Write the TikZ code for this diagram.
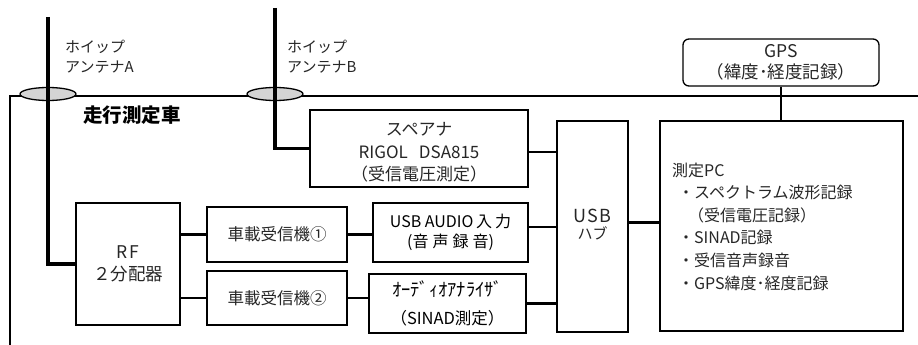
\documentclass[tikz,border=0pt]{standalone}
\usepackage{fontspec}
\usetikzlibrary{shapes.geometric}
\setmainfont{Noto Sans CJK JP}
\begin{document}
\begin{tikzpicture}[x=1pt,y=-1pt,
  box/.style={draw, line width=1.3pt, inner sep=0pt, align=center, text=black!85,
    font=\fontsize{15.5}{22}\selectfont},
  txt/.style={inner sep=0pt, align=center, text=black!85, font=\fontsize{15.5}{22.5}\selectfont},
  conn/.style={line width=2.3pt},
  ant/.style={line width=3.2pt},
  car/.style={line width=1.3pt},
  pad/.style={draw=black, line width=1.3pt, fill=black!17}]
\useasboundingbox (0,0) rectangle (918,345);
% vehicle outline
\coordinate (carTL) at (10,96);
\coordinate (carTR) at (918,96);
\coordinate (carBL) at (10,345);
\draw[car] (carBL) -- (carTL) -- (carTR);
% boxes
\node[box, minimum width=218pt, minimum height=77pt] (spec) at (419,148.5) {};
\node[txt, font=\fontsize{17}{22.5}\selectfont] (spect) at (419,152.5) {スペアナ\\RIGOL\hspace{11pt}DSA815\\（受信電圧測定）};
\node[box, minimum width=71pt, minimum height=211pt] (hub) at (592.5,226.5) {};
\node[txt, font=\fontsize{15}{17}\selectfont] (hubt) at (592.5,224.5) {{\fontsize{18}{18}\selectfont U\kern1ptS\kern1ptB}\\ハブ};
\node[box, minimum width=243pt, minimum height=210pt] (pc) at (781.5,226) {};
\node[txt, anchor=west, align=left, font=\fontsize{16}{22.6}\selectfont] (pct) at (672,226.5)
  {測定PC\\\hspace*{6pt}・スペクトラム波形記録\\\hspace*{16pt}（受信電圧記録）\\\hspace*{6pt}・SINAD記録\\\hspace*{6pt}・受信音声録音\\\hspace*{6pt}・GPS緯度･経度記録};
\node[box, rounded corners=6pt, minimum width=196pt, minimum height=47pt, font=\fontsize{17.5}{21}\selectfont] (gps) at (781,62.5) {GPS\\（緯度･経度記録）};
\node[box, minimum width=104pt, minimum height=122pt, font=\fontsize{17.5}{22}\selectfont] (rf) at (128,264) {R\kern2ptF\\２分配器};
\node[box, minimum width=140pt, minimum height=55pt, font=\fontsize{16.5}{22}\selectfont] (rx1) at (277,234.5) {車載受信機①};
\node[box, minimum width=140pt, minimum height=54pt, font=\fontsize{16.5}{22}\selectfont] (rx2) at (277,298) {車載受信機②};
\node[box, minimum width=155pt, minimum height=59pt, text=black, font=\fontsize{16}{20}\selectfont] (ua) at (450.5,232.5) {USB AUDIO\,入\hspace{3pt}力\\(音\hspace{4pt}声\hspace{4pt}録\hspace{4pt}音)};
\node[box, minimum width=157pt, minimum height=59pt, text=black, font=\fontsize{16.5}{28}\selectfont] (aa) at (447.5,303.5) {{\fontsize{18.5}{28}\selectfont ｵｰﾃﾞｨｵｱﾅﾗｲｻﾞ}\\（SINAD測定）};
% title
\node[inner sep=0pt, anchor=west, font=\fontsize{19.5}{22}\bfseries] (title) at (83,115) {走行測定車};
% antenna labels
\node[txt, anchor=west, align=left, font=\fontsize{15}{20}\selectfont] (labA) at (65,57) {ホイップ\\アンテナA};
\node[txt, anchor=west, align=left, font=\fontsize{15}{20}\selectfont] (labB) at (287,57) {ホイップ\\アンテナB};
% antennas
\coordinate (antA) at (48,17);
\coordinate (antB) at (275,8);
\node[pad, ellipse, minimum width=56pt, minimum height=13pt, inner sep=0pt] (padA) at (48,94) {};
\node[pad, ellipse, minimum width=56pt, minimum height=13pt, inner sep=0pt] (padB) at (275,94) {};
\draw[ant] (antA) |- (rf.west);
\draw[ant] (antB) |- (spec.west);
% connectors
\draw[conn] ([yshift=-3.5pt]spec.east) -- ([yshift=-3.5pt]spec.east -| hub.west);
\draw[conn] (rf.east |- rx1.west) -- (rx1.west);
\draw[conn] (rf.east |- rx2.west) -- (rx2.west);
\draw[conn] (rx1.east) -- (rx1.east -| ua.west);
\draw[conn] (rx2.east) -- (rx2.east -| aa.west);
\draw[conn] ([yshift=5.5pt]ua.east) -- ([yshift=5.5pt]ua.east -| hub.west);
\draw[conn] (aa.east) -- (aa.east -| hub.west);
\draw[conn] ([yshift=4pt]hub.east) -- ([yshift=4pt]hub.east -| pc.west);
\draw[conn] (gps.south) -- (gps.south |- pc.north);
\end{tikzpicture}
\end{document}
